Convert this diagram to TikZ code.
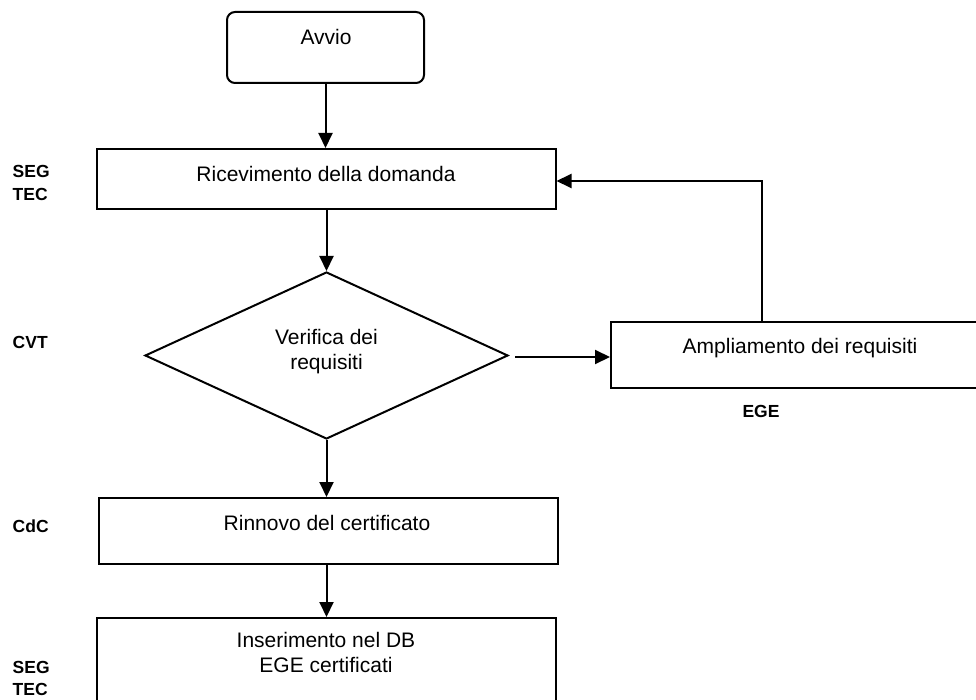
\documentclass[tikz,border=0pt]{standalone}
\usepackage{fontspec}
\setmainfont{Liberation Sans}
\usetikzlibrary{arrows.meta,shapes.geometric,calc}
\begin{document}
\begin{tikzpicture}[x=1pt,y=-1pt,
  boxline/.style={draw=black,line width=2pt,inner sep=0pt},
  stepbox/.style={boxline,rectangle},
  txt/.style={inner sep=0pt,anchor=base,align=center,font=\fontsize{21}{25.5}\selectfont},
  who/.style={inner sep=0pt,anchor=base west,align=left,font=\fontsize{17.5}{22.5}\selectfont\bfseries},
  conn/.style={line width=2pt,-{Triangle[length=15pt,width=14pt]}}
]
\useasboundingbox (0,0) rectangle (976,700);
\clip (0,0) rectangle (976,700);

% boxes
\node[stepbox,rounded corners=8pt,minimum width=197pt,minimum height=71pt] (avvio) at (325.5,47.5) {};
\node[stepbox,minimum width=459pt,minimum height=60pt] (ric) at (326,179) {};
\node[boxline,diamond,minimum width=363pt,minimum height=167pt] (ver) at (326.5,355.5) {};
\node[stepbox,minimum width=378pt,minimum height=66pt] (ampl) at (800,355) {};
\node[stepbox,minimum width=459pt,minimum height=66pt] (rin) at (328,531) {};
\node[stepbox,minimum width=459pt,minimum height=102pt] (ins) at (326.5,669) {};

% texts (anchor base = baseline of the last line)
\node[txt] (tavvio) at (326,45) {Avvio};
\node[txt] (tric) at (326,182) {Ricevimento della domanda};
\node[txt] (tver) at (326.5,369.5) {Verifica dei\\requisiti};
\node[txt] (tampl) at (800,353) {Ampliamento dei requisiti};
\node[txt] (trin) at (327,530) {Rinnovo del certificato};
\node[txt] (tins) at (326,672.5) {Inserimento nel DB\\EGE certificati};

% side labels
\node[who] (l1) at (12.5,200.5) {SEG\\TEC};
\node[who] (l2) at (12.5,348) {CVT};
\node[who] (l3) at (12.5,532) {CdC};
\node[who] (l4) at (12.5,695.5) {SEG\\TEC};
\node[who,anchor=base] (l5) at (761,417) {EGE};

% connectors
\coordinate (amplup) at ($(ampl.north)+(-38pt,0)$);
\draw[conn] (avvio.south) -- (avvio.south |- ric.north);
\draw[conn] (ver.north |- ric.south) -- (ver.north);
\draw[conn] (ver.south) -- (ver.south |- rin.north);
\draw[conn] (ver.south |- rin.south) -- (ver.south |- ins.north);
\draw[conn,shorten <=6pt] ([yshift=-1.5pt]ver.east) -- ([yshift=-1.5pt]ver.east -| ampl.west);
\draw[conn] (amplup) |- ([yshift=-2pt]ric.east);
\end{tikzpicture}
\end{document}
